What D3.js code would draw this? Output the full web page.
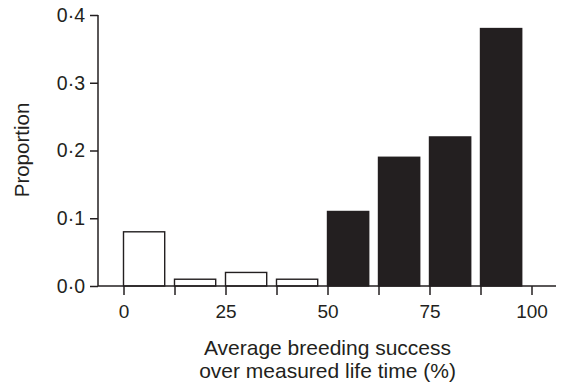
<!DOCTYPE html>
<html lang="en">
<head>
  <meta charset="UTF-8">
  <title>Breeding success</title>
  <script src="https://d3js.org/d3.v7.min.js"></script>
  <style>
    body { margin: 0; background: #fff; }
    text { font-family: "Liberation Sans", Arial, Helvetica, sans-serif; fill: #231f20; }
  </style>
</head>
<body>
  <div id="chart"></div>
  <script>
    // bins of average breeding success (%), each 12.5 wide
    const binStarts = [0, 12.5, 25, 37.5, 50, 62.5, 75, 87.5]
    const proportions = [0.08, 0.01, 0.02, 0.01, 0.11, 0.19, 0.22, 0.38]
    const xTicks = [0, 12.5, 25, 37.5, 50, 62.5, 75, 87.5, 100]
    const xTickLabels = [0, 25, 50, 75, 100]
    const yTicks = [0, 0.1, 0.2, 0.3, 0.4]

    const width = 563
    const height = 383
    const ink = '#231f20'

    const svg = d3.select('#chart').append('svg')
      .attr('width', width)
      .attr('height', height)

    const x = d3.scaleLinear()
      .domain([-6.25, 106.25])
      .range([98, 557])

    const y = d3.scaleLinear()
      .domain([0, 0.4])
      .range([286, 15])

    const barUnits = 10.1

    // bars
    svg.selectAll('rect.bar')
      .data(binStarts)
      .enter()
      .append('rect')
      .attr('class', 'bar')
      .attr('x', (d) => x(d))
      .attr('y', (d, i) => y(proportions[i]))
      .attr('width', (d) => x(d + barUnits) - x(d))
      .attr('height', (d, i) => y(0) - y(proportions[i]))
      .attr('fill', (d) => d >= 50 ? ink : '#fff')
      .attr('stroke', ink)
      .attr('stroke-width', 1.4)

    // x axis
    const xAxis = d3.axisBottom(x)
      .tickValues(xTicks)
      .tickSize(9)
      .tickPadding(10)
      .tickFormat((d) => xTickLabels.indexOf(d) === -1 ? '' : d)

    const gx = svg.append('g')
      .attr('transform', `translate(0, ${y(0)})`)
      .call(xAxis)
    gx.select('.domain').remove()
    gx.append('line')
      .attr('x1', x.range()[0])
      .attr('x2', x.range()[1] - 1)
      .attr('stroke', ink)
      .attr('stroke-width', 1.5)
    gx.selectAll('.tick line').attr('stroke', ink).attr('stroke-width', 1.5)
    gx.selectAll('.tick text')
      .attr('fill', ink)
      .attr('font-size', 19)
      .attr('font-family', '"Liberation Sans", Arial, sans-serif')

    // y axis
    const yAxis = d3.axisLeft(y)
      .tickValues(yTicks)
      .tickSize(8)
      .tickPadding(5)
      .tickFormat((d) => d3.format('.1f')(d).replace('.', '\u00b7'))

    const gy = svg.append('g')
      .attr('transform', `translate(${x.range()[0]}, 0)`)
      .call(yAxis)
    gy.select('.domain').remove()
    gy.append('line')
      .attr('y1', y(0.4))
      .attr('y2', y(0))
      .attr('stroke', ink)
      .attr('stroke-width', 1.5)
    gy.selectAll('.tick line').attr('stroke', ink).attr('stroke-width', 1.5)
    gy.selectAll('.tick text')
      .attr('fill', ink)
      .attr('font-size', 19.5)
      .attr('font-family', '"Liberation Sans", Arial, sans-serif')

    // axis titles
    const xTitle = svg.append('text')
      .attr('text-anchor', 'middle')
      .attr('font-size', 21)
    xTitle.append('tspan').attr('x', x(50)).attr('y', 355).text('Average breeding success')
    xTitle.append('tspan').attr('x', x(50)).attr('y', 378).text('over measured life time (%)')

    svg.append('text')
      .attr('transform', 'translate(29, 150) rotate(-90)')
      .attr('text-anchor', 'middle')
      .attr('font-size', 20.5)
      .text('Proportion')
  </script>
</body>
</html>
